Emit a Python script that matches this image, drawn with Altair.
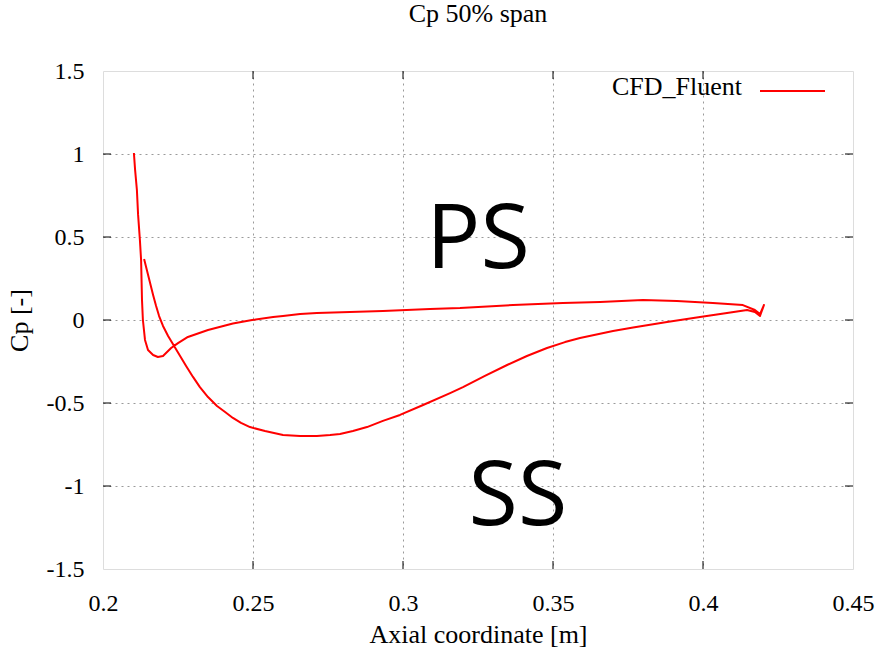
import altair as alt
import pandas as pd

# Cp curve (one continuous polyline around the blade section)
xs = [0.2137, 0.2147, 0.2157, 0.2167, 0.2177, 0.2187, 0.2200, 0.2217, 0.2237, 0.2257,
      0.2277, 0.2300, 0.2323, 0.2350, 0.2380, 0.2407, 0.2433, 0.2460, 0.2490, 0.2540,
      0.2600, 0.2657, 0.2713, 0.2757, 0.2790, 0.2833, 0.2880, 0.2933, 0.2990, 0.3067,
      0.3157, 0.3200, 0.3273, 0.3347, 0.3413, 0.3480, 0.3540, 0.3590, 0.3700, 0.3767,
      0.3880, 0.3990, 0.4080, 0.4147, 0.4173, 0.4190, 0.4203, 0.4190,
      0.4173, 0.4133, 0.4033, 0.3913, 0.3800, 0.3657, 0.3533, 0.3367, 0.3190, 0.3090,
      0.2933, 0.2713, 0.2657, 0.2600, 0.2567, 0.2497, 0.2433, 0.2350, 0.2283, 0.2250,
      0.2227, 0.2200, 0.2183, 0.2167, 0.2150, 0.2140, 0.2133, 0.2130, 0.2127, 0.2123,
      0.2117, 0.2113, 0.2107, 0.2103]
ys = [0.367, 0.295, 0.223, 0.151, 0.084, 0.024, -0.036, -0.096, -0.157, -0.217,
      -0.277, -0.343, -0.404, -0.464, -0.518, -0.554, -0.590, -0.620, -0.645, -0.669,
      -0.693, -0.699, -0.699, -0.693, -0.687, -0.669, -0.645, -0.608, -0.572, -0.512,
      -0.440, -0.404, -0.337, -0.271, -0.217, -0.169, -0.133, -0.108, -0.066, -0.045,
      -0.012, 0.018, 0.042, 0.060, 0.048, 0.024, 0.090, 0.036,
      0.060, 0.090, 0.102, 0.114, 0.120, 0.108, 0.102, 0.090, 0.072, 0.066,
      0.054, 0.042, 0.036, 0.024, 0.018, 0.000, -0.021, -0.060, -0.102, -0.139,
      -0.169, -0.217, -0.223, -0.211, -0.181, -0.120, 0.000, 0.120, 0.361, 0.482,
      0.633, 0.783, 0.904, 1.006]

x_ticks = [0.2, 0.25, 0.3, 0.35, 0.4, 0.45]
y_ticks = [-1.5, -1, -0.5, 0, 0.5, 1, 1.5]

ann_text = ["PS", "SS"]
ann_x = [0.325, 0.3383]
ann_y = [0.313, -1.235]

series_name = "CFD_Fluent"
title_text = "Cp 50% span"
x_title = "Axial coordinate [m]"
y_title = "Cp [-]"

W, H = 750, 498
SERIF = "Liberation Serif"
RED = "#ff0000"

df = pd.DataFrame({"i": list(range(len(xs))), "x": xs, "y": ys})
ann = pd.DataFrame({"t": ann_text, "x": ann_x, "y": ann_y})
xt = pd.DataFrame({"v": x_ticks[1:-1]})
yt = pd.DataFrame({"v": y_ticks[1:-1]})

x_hide = {"condition": {"test": "datum.value <= 0.2 || datum.value >= 0.45", "value": 0}, "value": 1}
y_hide = {"condition": {"test": "datum.value <= -1.5 || datum.value >= 1.5", "value": 0}, "value": 1}

xscale = alt.Scale(domain=[0.2, 0.45], nice=False, zero=False)
yscale = alt.Scale(domain=[-1.5, 1.5], nice=False, zero=False)

xaxis = alt.Axis(values=x_ticks, labelExpr="'' + datum.value", grid=True,
                 gridDash=[2, 4], gridColor="#9a9a9a", gridOpacity=x_hide,
                 ticks=False, domain=False, labelFont=SERIF, labelFontSize=24,
                 labelColor="#000000", labelPadding=22, labelFlush=False,
                 title=x_title, titleFont=SERIF, titleFontSize=26,
                 titleFontWeight="normal", titleColor="#000000", titlePadding=6)
yaxis = alt.Axis(values=y_ticks, labelExpr="'' + datum.value", grid=True,
                 gridDash=[2, 4], gridColor="#9a9a9a", gridOpacity=y_hide,
                 ticks=False, domain=False, labelFont=SERIF, labelFontSize=24,
                 labelColor="#000000", labelPadding=19, labelFlush=False,
                 title=y_title, titleFont=SERIF, titleFontSize=26,
                 titleFontWeight="normal", titleColor="#000000", titlePadding=14)

line = alt.Chart(df).mark_line(color=RED, strokeWidth=2, clip=True,
                               strokeJoin="round").encode(
    x=alt.X("x:Q", scale=xscale, axis=xaxis),
    y=alt.Y("y:Q", scale=yscale, axis=yaxis),
    order="i:Q",
)

text = alt.Chart(ann).mark_text(font="Open Sans", fontSize=90, color="#000000",
                                align="center", baseline="alphabetic").encode(
    x=alt.X("x:Q", scale=xscale), y=alt.Y("y:Q", scale=yscale), text="t:N")

TL = 8
tick_b = alt.Chart(xt).mark_rule(color="#000000").encode(
    x=alt.X("v:Q", scale=xscale), y=alt.value(H), y2=alt.value(H - TL))
tick_t = alt.Chart(xt).mark_rule(color="#000000").encode(
    x=alt.X("v:Q", scale=xscale), y=alt.value(0), y2=alt.value(TL))
tick_l = alt.Chart(yt).mark_rule(color="#000000").encode(
    y=alt.Y("v:Q", scale=yscale), x=alt.value(0), x2=alt.value(TL))
tick_r = alt.Chart(yt).mark_rule(color="#000000").encode(
    y=alt.Y("v:Q", scale=yscale), x=alt.value(W), x2=alt.value(W - TL))

leg_df = pd.DataFrame({"t": [series_name]})
leg_text = alt.Chart(leg_df).mark_text(font=SERIF, fontSize=26, color="#000000",
                                       align="right", baseline="alphabetic").encode(
    x=alt.value(639), y=alt.value(24), text="t:N")
leg_line = alt.Chart(leg_df).mark_rule(color=RED, strokeWidth=2).encode(
    x=alt.value(657), x2=alt.value(722), y=alt.value(20))

chart = alt.layer(tick_b, tick_t, tick_l, tick_r, line, text, leg_text, leg_line).properties(
    width=W, height=H,
    title=alt.TitleParams(title_text, font=SERIF, fontSize=26, fontWeight="normal",
                          color="#000000", offset=32, anchor="middle"),
    autosize=alt.AutoSizeParams(type="none"),
    padding={"left": 103, "top": 71, "right": 23, "bottom": 84},
).configure_view(stroke="#000000", strokeWidth=1.2).configure(background="#ffffff")

chart.save("out.html", embed_options={"renderer": "svg", "actions": False})
